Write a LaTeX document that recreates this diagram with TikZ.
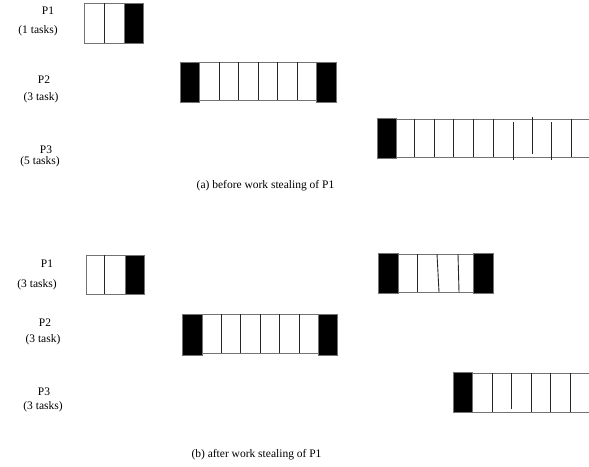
\documentclass[tikz,border=0pt]{standalone}
\usepackage{fontspec}
\setmainfont{Liberation Serif}
\usetikzlibrary{positioning}

\begin{document}
\begin{tikzpicture}[x=1pt,y=-1pt,
lbl/.style={font=\fontsize{11.5}{13}\selectfont,inner sep=0pt},
slot/.style={draw=black!55,line width=0.9pt},
lock/.style={fill=black,draw=black!55,line width=0.6pt},
bar/.style={draw=black!85,line width=0.9pt}]
\useasboundingbox (0,0) rectangle (589,466);
% (a) before work stealing
\node[lbl] (p1a) at (48,10.5) {P1};
\node[lbl] (p1an) at (38,31) {(1 tasks)};
\node[lbl] (p2a) at (44,80) {P2};
\node[lbl] (p2an) at (41,98) {(3 task)};
\node[lbl] (p3a) at (46,150) {P3};
\node[lbl] (p3an) at (40,162) {(5 tasks)};
% P1 queue
\draw[slot] (84,3) rectangle (124,43);
\draw[bar] (104,3) -- (104,43);
\filldraw[lock] (124,3) rectangle (143,43);
% P2 queue
\draw[slot] (199,62) rectangle (316,100);
\foreach \x in {219,238,258,277,297} \draw[bar] (\x,62) -- (\x,100);
\filldraw[lock] (180,62) rectangle (199,102);
\filldraw[lock] (316,62) rectangle (336,102);
% P3 queue, runs off the right edge
\draw[slot] (396,119) -- (589,119);
\draw[slot] (396,157) -- (589,157);
\foreach \x in {414,434,453,473,493,571} \draw[bar] (\x,119) -- (\x,157);
\draw[bar] (513,122) -- (513,160);
\draw[bar] (532,117) -- (532,154);
\draw[bar] (551,122) -- (551,160);
\filldraw[lock] (377,118) rectangle (396,158);
\node[lbl] (capa) at (265.5,186) {(a) before work stealing of P1};
% (b) after work stealing
\node[lbl] (p1b) at (47,264) {P1};
\node[lbl] (p1bn) at (37,285) {(3 tasks)};
\node[lbl] (p2b) at (45,323) {P2};
\node[lbl] (p2bn) at (43,340) {(3 task)};
\node[lbl] (p3b) at (44,392) {P3};
\node[lbl] (p3bn) at (43,407) {(3 tasks)};
% P1 queue
\draw[slot] (86,255) rectangle (125,294);
\draw[bar] (104,255) -- (104,294);
\filldraw[lock] (125,255) rectangle (144,294);
% stolen tasks of P1
\draw[slot] (398,254) rectangle (473,292);
\draw[bar] (417,254) -- (417,292);
\draw[bar] (437,254) -- (439,292);
\draw[bar] (458,254) -- (459,292);
\filldraw[lock] (378,253) rectangle (398,293);
\filldraw[lock] (473,253) rectangle (493,293);
% P2 queue
\draw[slot] (202,314) rectangle (318,353);
\foreach \x in {221,240,260,279,299} \draw[bar] (\x,314) -- (\x,353);
\filldraw[lock] (182,314) rectangle (202,355);
\filldraw[lock] (318,314) rectangle (337,355);
% P3 queue, runs off the right edge
\draw[slot] (472,373) -- (589,373);
\draw[slot] (472,412) -- (589,412);
\foreach \x in {492,531,550,570} \draw[bar] (\x,373) -- (\x,412);
\draw[bar] (511,373) -- (511,409);
\filldraw[lock] (453,372) rectangle (472,412);
\node[lbl] (capb) at (256.5,455) {(b) after work stealing of P1};
\end{tikzpicture}
\end{document}
